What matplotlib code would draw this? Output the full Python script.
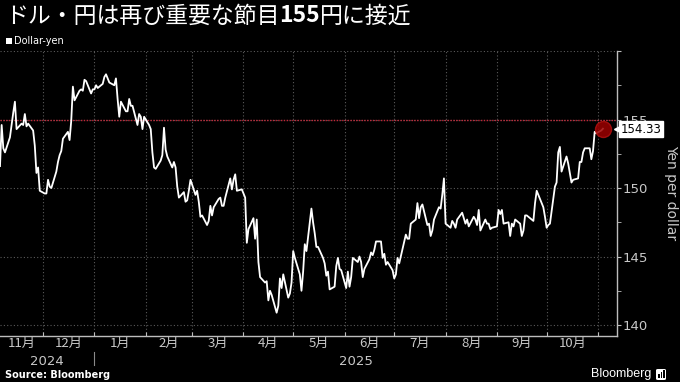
import matplotlib
matplotlib.use("Agg")
import matplotlib.pyplot as plt
from matplotlib.patches import Rectangle, FancyBboxPatch
import pandas as pd

# USD/JPY daily closes (business days), 2024-11-05 .. 2025-11-04
start = "2024-11-05"
end = "2025-11-04"
usdjpy = [
    # Nov 2024
    151.6, 154.6, 152.9, 152.6, 153.7, 154.6, 155.5, 156.3, 154.3, 154.7,
    154.6, 155.4, 154.5, 154.7, 154.2, 153.1, 151.1, 151.5, 149.8,
    # Dec 2024
    149.6, 149.6, 150.6, 150.1, 150.0, 151.2, 151.9, 152.4, 152.7, 153.6,
    154.1, 153.5, 154.9, 157.4, 156.4, 157.1, 157.2, 157.1, 157.9, 157.8,
    156.9, 157.2,
    # Jan 2025
    157.2, 157.5, 157.3, 157.6, 158.1, 158.3, 158.0, 157.7, 157.5, 158.0,
    156.5, 155.2, 156.3, 155.6, 155.6, 156.5, 156.0, 156.0, 154.6, 155.4,
    155.2, 154.3, 155.2,
    # Feb 2025
    154.6, 154.3, 152.6, 151.5, 151.4, 152.0, 152.4, 154.4, 152.8, 152.3,
    151.5, 151.9, 151.5, 150.1, 149.3, 149.7, 149.0, 149.1, 149.8, 150.6,
    # Mar 2025
    149.5, 149.8, 149.0, 147.9, 148.0, 147.3, 147.6, 148.7, 148.0, 148.6,
    149.2, 149.3, 148.7, 148.7, 149.3, 150.7, 149.9, 150.6, 151.0, 149.8,
    149.9,
    # Apr 2025
    149.6, 149.3, 146.0, 147.0, 147.8, 146.3, 147.7, 144.6, 143.5, 143.1,
    143.2, 141.8, 142.5, 142.2, 140.9, 141.4, 143.4, 142.7, 143.7, 142.0,
    142.3, 143.1,
    # May 2025
    145.4, 144.9, 143.7, 142.5, 143.9, 145.9, 145.4, 148.5, 147.5, 146.7,
    145.7, 145.7, 144.9, 144.5, 143.6, 143.9, 142.6, 142.8, 144.3, 144.9,
    144.1, 144.0,
    # Jun 2025
    142.7, 143.9, 142.8, 143.5, 144.9, 144.6, 145.0, 144.6, 143.5, 144.1,
    144.8, 145.3, 145.1, 145.5, 146.1, 146.1, 144.9, 145.2, 144.4, 144.6,
    144.0,
    # Jul 2025
    143.4, 143.7, 144.9, 144.5, 146.1, 146.6, 146.3, 146.3, 147.4, 147.7,
    148.9, 147.8, 148.6, 148.8, 147.3, 147.4, 146.5, 146.9, 147.7, 148.6,
    148.5, 149.5, 150.7,
    # Aug 2025
    147.4, 147.1, 147.6, 147.4, 147.1, 147.7, 148.2, 147.8, 147.4, 147.7,
    147.2, 147.9, 147.7, 147.3, 148.4, 146.9, 147.7, 147.4, 147.4, 147.0,
    147.1,
    # Sep 2025
    147.2, 148.4, 148.1, 148.4, 147.4, 147.5, 146.5, 147.4, 147.2, 147.7,
    147.4, 146.5, 146.9, 148.0, 148.0, 147.7, 147.6, 148.9, 149.8, 149.5,
    148.6, 147.9,
    # Oct 2025
    147.1, 147.3, 147.4, 150.1, 150.4, 152.6, 153.0, 151.2, 152.3, 151.8,
    151.1, 150.4, 150.6, 150.7, 151.9, 151.9, 152.6, 152.9, 152.9, 152.1,
    152.7, 154.1, 154.0,
    # Nov 2025
    154.2, 154.33,
]
month_labels = ["11月", "12月", "1月", "2月", "3月", "4月", "5月", "6月",
                "7月", "8月", "9月", "10月"]
year_labels = ["2024", "2025"]
level = 155
y_ticks = [140, 145, 150, 155, 160]

dates = pd.bdate_range(start, end)
xmin = pd.Timestamp("2024-11-05")
xmax = pd.Timestamp("2025-11-12 12:00")

cjk = ["Noto Sans CJK JP", "DejaVu Sans"]
narrow = ["Liberation Sans Narrow", "DejaVu Sans"]
grey = "#c8c8c8"

fig = plt.figure(figsize=(6.8, 3.82), dpi=100, facecolor="black")
ax = fig.add_axes([0.0, 0.1204, 0.9074, 0.7461], facecolor="black")

ax.plot(dates, usdjpy, color="white", lw=1.3, zorder=3)
ax.axhline(level, color="#c0283a", ls=(0, (1, 1)), lw=1.0, zorder=2)
ax.plot(dates[-1], usdjpy[-1], "o", ms=11.5, color="#9c0000", alpha=0.85,
        mec="#b01010", zorder=4)

ax.set_xlim(xmin, xmax)
ax.set_ylim(139.2, 160)

for s in ["left", "top"]:
    ax.spines[s].set_visible(False)
for s in ["right", "bottom"]:
    ax.spines[s].set_color("#bdbdbd")
    ax.spines[s].set_linewidth(1.0)

# y axis on the right
ax.yaxis.tick_right()
ax.set_yticks(y_ticks)
ax.set_yticklabels([str(v) for v in y_ticks[:-1]] + [""])
ax.set_yticks([v + 2.5 for v in y_ticks[:-1]], minor=True)
ax.tick_params(axis="y", which="both", direction="out", colors="#bdbdbd",
               labelcolor=grey, labelsize=9.5, length=3, pad=1)
for lbl in ax.get_yticklabels():
    lbl.set_family(narrow)

# x axis: ticks at month starts, labels centred in each month
month_starts = pd.date_range("2024-12-01", "2025-11-01", freq="MS")
ax.set_xticks(month_starts)
ax.set_xticklabels([])
edges = [xmin] + list(month_starts) + [xmax]
centers = [edges[i] + (edges[i + 1] - edges[i]) / 2 for i in range(len(month_labels))]
ax.set_xticks(centers, minor=True)
ax.set_xticklabels(month_labels, minor=True, family=cjk)
ax.tick_params(axis="x", which="major", direction="in", length=3,
               colors="#bdbdbd")
ax.tick_params(axis="x", which="minor", length=0, labelsize=9.5,
               labelcolor=grey, pad=1)

ax.grid(axis="x", which="major", color="#5a5a5a", ls=(0, (1, 2)), lw=0.8)
ax.grid(axis="y", which="major", color="#5a5a5a", ls=(0, (1, 2)), lw=0.8)

# years under the months
xt = ax.get_xaxis_transform()
jan1 = pd.Timestamp("2025-01-01")
ax.text(xmin + (jan1 - xmin) / 2, -0.088, year_labels[0], transform=xt,
        ha="center", va="center", color=grey, fontsize=9.5, family=narrow)
ax.text(jan1 + (xmax - jan1) / 2, -0.088, year_labels[1], transform=xt,
        ha="center", va="center", color=grey, fontsize=9.5, family=narrow)
ax.plot([jan1, jan1], [-0.056, -0.102], transform=xt, color="#8a8a8a",
        lw=0.8, clip_on=False)

# last value tag
ax.plot(1.0, usdjpy[-1], marker="<", ms=5, color="white",
        transform=ax.get_yaxis_transform(), clip_on=False, zorder=5)
ax.annotate(f"{usdjpy[-1]:.2f}", xy=(1.0, usdjpy[-1]),
            xycoords=ax.get_yaxis_transform(), xytext=(17.5, -0.5),
            textcoords="offset points", ha="center", va="center",
            fontsize=8.5, family=narrow, color="black",
            bbox=dict(boxstyle="square,pad=0.12", fc="white", ec="white"),
            annotation_clip=False, zorder=6)

fig.text(671 / 680, 1 - 193 / 382, "Yen per dollar", rotation=270,
         ha="center", va="center", color=grey, fontsize=10)

# title (mixed weight)
t1 = fig.text(5 / 680, 1 - 16 / 382, "ドル・円は再び重要な節目", color="white",
              fontsize=16.5, family=cjk, va="center", ha="left")
t2 = ax.annotate("155", xy=(1, 0), xycoords=t1, ha="left", va="bottom",
                 color="white", fontsize=16.5, family=cjk, weight="bold",
                 annotation_clip=False)
ax.annotate("円に接近", xy=(1, 0), xycoords=t2, ha="left", va="bottom",
            color="white", fontsize=16.5, family=cjk, annotation_clip=False)

# legend
fig.patches.append(Rectangle((6 / 680, 1 - 43.5 / 382), 6 / 680, 6 / 382,
                             transform=fig.transFigure, fc="white", ec="none"))
fig.text(14 / 680, 1 - 40.5 / 382, "Dollar-yen", color="white", fontsize=7,
         va="center", ha="left")

# footer
fig.text(5 / 680, 1 - 375 / 382, "Source: Bloomberg", color="white",
         fontsize=7, weight="bold", va="center", ha="left")
fig.text(651 / 680, 1 - 374 / 382, "Bloomberg", color="white", fontsize=9,
         family=["Liberation Sans", "DejaVu Sans"], va="center", ha="right")
fig.patches.append(FancyBboxPatch((656 / 680, 1 - 380 / 382), 10 / 680, 11 / 382,
                                  boxstyle="round,pad=0,rounding_size=0.003",
                                  transform=fig.transFigure, fc="white", ec="none"))
for i, h in enumerate([4, 6, 8]):
    fig.patches.append(Rectangle(((658 + i * 2.5) / 680, 1 - 378 / 382), 1.5 / 680,
                                 h / 382, transform=fig.transFigure,
                                 fc="black", ec="none"))

fig.savefig("out.png", dpi=100, facecolor="black")
